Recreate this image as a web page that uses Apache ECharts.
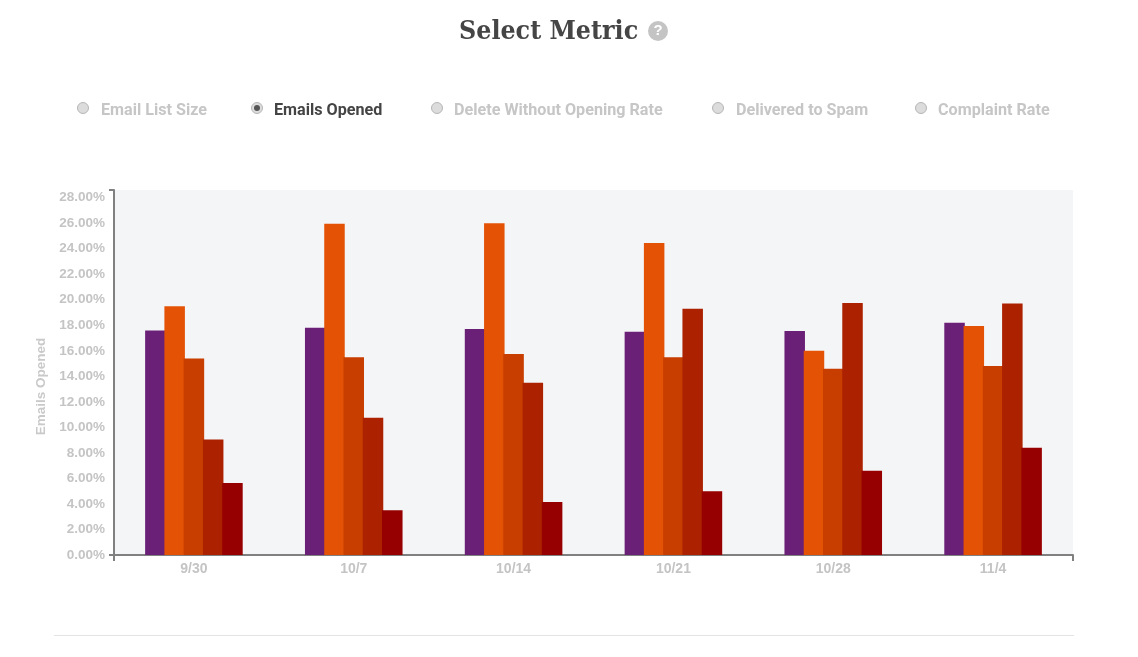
<!DOCTYPE html>
<html><head><meta charset="utf-8">
<style>html,body{margin:0;padding:0;background:#fff}#c{width:1138px;height:657px}</style>
<script src="https://cdn.jsdelivr.net/npm/echarts@6/dist/echarts.min.js"></script>
</head><body><div id="c"></div>
<script>
const categories = ['9/30','10/7','10/14','10/21','10/28','11/4'];
const seriesA = [17.6,17.8,17.7,17.5,17.55,18.2];
const seriesB = [19.5,25.95,26.0,24.45,16.0,17.95];
const seriesC = [15.4,15.5,15.75,15.5,14.6,14.8];
const seriesD = [9.05,10.75,13.5,19.3,19.75,19.7];
const seriesE = [5.65,3.5,4.15,5.0,6.6,8.4];
const colors = ['#6b2077','#e35205','#c73e00','#ac2100','#960000'];
const metrics = ['Email List Size','Emails Opened','Delete Without Opening Rate','Delivered to Spam','Complaint Rate'];
const selectedMetric = 'Emails Opened';
const axisMax = 28.6;
const narrow = 'Roboto,"Liberation Sans",sans-serif';
const sans = '"Liberation Sans",Arial,sans-serif';
const radioX = [83,257,437,718,921];
const textX = [101,274,454,736,938];
const axisColor = '#808080';
const graphic = [
  {type:'text',x:459,y:32,style:{text:'Select Metric',font:'bold 26.5px "DejaVu Serif Condensed"',fill:'#454545',verticalAlign:'middle'}},
  {type:'circle',shape:{cx:658,cy:31,r:10},style:{fill:'#c4c4c4'}},
  {type:'text',x:658,y:31,style:{text:'?',font:'bold 15px '+sans,fill:'#fff',align:'center',verticalAlign:'middle'}},
  {type:'line',shape:{x1:54,y1:635.5,x2:1074,y2:635.5},style:{stroke:'#e4e4e4',lineWidth:1}},
  {type:'line',shape:{x1:109,y1:190,x2:114,y2:190},style:{stroke:axisColor,lineWidth:2},z:10}
];
metrics.forEach((m,i)=>{
  const on = m===selectedMetric;
  graphic.push({type:'circle',shape:{cx:radioX[i],cy:108,r:5.5},style:{fill:'#dcdcdc',stroke:'#b5b5b5',lineWidth:1}});
  if(on) graphic.push({type:'circle',shape:{cx:radioX[i],cy:108,r:3},style:{fill:'#555'}});
  graphic.push({type:'text',x:textX[i],y:111,scaleX:0.95,style:{text:m,font:'bold 17px '+narrow,fill:on?'#444':'#c6c6c6',verticalAlign:'middle'}});
});
const chart = echarts.init(document.getElementById('c'),null,{renderer:'canvas'});
const axisLine = {show:true,lineStyle:{color:axisColor,width:2}};
chart.setOption({
  animation:false,
  graphic,
  grid:{left:114,right:65,top:190,bottom:102,show:true,backgroundColor:'#f4f5f7',borderWidth:0},
  xAxis:{type:'category',data:categories,axisLine,
    axisTick:{show:true,length:6,lineStyle:{color:axisColor,width:2},interval:(i)=>i===0||i===categories.length},
    axisLabel:{color:'#c4c4c4',fontFamily:sans,fontWeight:'bold',fontSize:14,margin:7},splitLine:{show:false}},
  yAxis:{type:'value',min:0,max:axisMax,interval:2,
    name:'Emails Opened',nameLocation:'middle',nameGap:66,
    nameTextStyle:{color:'#c9c9c9',fontFamily:sans,fontWeight:'bold',fontSize:13.5,padding:[0,28,0,0]},
    axisLine,
    axisTick:{show:true,length:5,customValues:[0],lineStyle:{color:axisColor,width:2}},
    axisLabel:{color:'#c4c4c4',fontFamily:sans,fontWeight:'bold',fontSize:13.5,margin:9,showMaxLabel:false,
      formatter:v=>v.toFixed(2)+'%'},
    splitLine:{show:false}},
  series:[seriesA,seriesB,seriesC,seriesD,seriesE].map((d,i)=>({
    type:'bar',data:d,barWidth:20.5,barGap:'-6%',itemStyle:{color:colors[i]},silent:true}))
});
</script></body></html>
